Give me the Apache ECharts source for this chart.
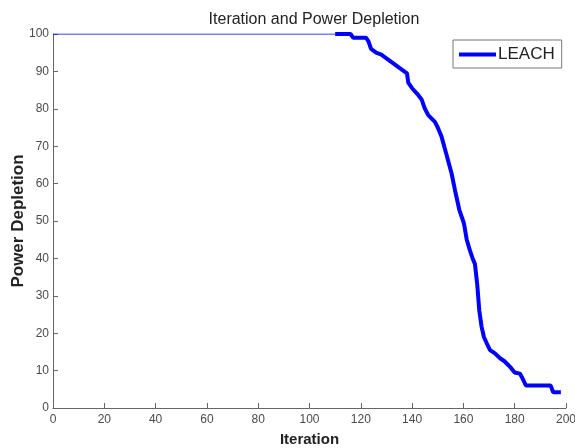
<!DOCTYPE html>
<html>
<head>
<meta charset="utf-8">
<script src="https://cdn.jsdelivr.net/npm/echarts@6/dist/echarts.min.js"></script>
<style>
  html, body { margin: 0; padding: 0; background: #fff; }
  #main { width: 575px; height: 448px; }
</style>
</head>
<body>
<div id="main"></div>
<script>
// 曲线数据
var idleIter = [0, 110];
var idlePower = [100, 100];

var iterations = [110, 116, 117, 122, 123, 124, 126, 128, 130, 132, 134, 136, 138, 138.5, 140, 142,
    143.7, 145, 146.3, 148.9, 150, 151.5, 153.5, 155.4, 156.7, 158.4, 160.2, 161.3, 162.6, 163.6,
    164.5, 165.4, 166.2, 167.1, 168, 169.1, 170.4, 172.3, 174.3, 176, 178.2, 180, 182, 183, 184.4,
    194, 195, 198];
var power = [100, 100, 99, 99, 98, 96, 95, 94.5, 93.5, 92.5, 91.5, 90.5, 89.5, 87, 85.5, 84,
    82.5, 80, 78.3, 76.5, 75, 72.5, 67.5, 62.7, 58.3, 53, 49.4, 45, 42, 40,
    38.5, 33, 26, 21.7, 19, 17.3, 15.5, 14.6, 13.3, 12.5, 11, 9.5, 9.2, 8, 6,
    6, 4.2, 4.2];

function pairs(xs, ys) {
    var out = [];
    for (var i = 0; i < xs.length; i++) {
        out.push([xs[i], ys[i]]);
    }
    return out;
}

var font = "'Liberation Sans Narrow', 'Liberation Sans', Arial, sans-serif";
var myChart = echarts.init(document.getElementById('main'));

var option = {
    animation: false,
    backgroundColor: '#fff',
    title: {
        text: 'Iteration and Power Depletion',
        left: 309,
        textAlign: 'center',
        top: 7,
        textStyle: { fontFamily: 'Liberation Sans, Arial', fontSize: 16, fontWeight: 'normal', color: '#222' }
    },
    legend: {
        data: ['LEACH'],
        left: 453,
        top: 40,
        padding: [6, 7, 5, 6],
        itemWidth: 37,
        itemHeight: 4,
        itemGap: 2,
        icon: 'rect',
        borderColor: '#777',
        borderWidth: 1,
        backgroundColor: '#fff',
        textStyle: { fontFamily: 'Liberation Sans, Arial', fontSize: 17, color: '#222', padding: [0, 0, 0, -3] }
    },
    grid: { left: 53, right: 9, top: 34, bottom: 40, containLabel: false, outerBoundsMode: 'none' },
    xAxis: {
        type: 'value',
        min: 0,
        max: 200,
        interval: 20,
        name: 'Iteration',
        nameLocation: 'middle',
        nameGap: 24,
        nameTextStyle: { fontFamily: 'Liberation Sans, Arial', fontSize: 15, fontWeight: 'bold', color: '#222' },
        axisLine: { lineStyle: { color: '#666', width: 1 } },
        axisTick: { inside: true, length: 5, lineStyle: { color: '#666' } },
        axisLabel: { fontFamily: font, fontSize: 12, color: '#4a4a4a', margin: 6 },
        splitLine: { show: false }
    },
    yAxis: {
        type: 'value',
        min: 0,
        max: 100,
        interval: 10,
        name: 'Power Depletion',
        nameLocation: 'middle',
        nameGap: 26,
        nameMoveOverlap: false,
        nameTextStyle: { fontFamily: 'Liberation Sans, Arial', fontSize: 17, fontWeight: 'bold', color: '#222' },
        axisLine: { show: true, lineStyle: { color: '#666', width: 1 } },
        axisTick: { show: true, inside: true, length: 5, lineStyle: { color: '#666' } },
        axisLabel: { fontFamily: font, fontSize: 12, color: '#4a4a4a', margin: 4 },
        splitLine: { show: false }
    },
    series: [
        {
            name: 'idle',
            type: 'line',
            data: pairs(idleIter, idlePower),
            symbol: 'none',
            lineStyle: { color: '#0000ff', width: 1 },
            itemStyle: { color: '#0000ff' }
        },
        {
            name: 'LEACH',
            type: 'line',
            data: pairs(iterations, power),
            symbol: 'none',
            lineStyle: { color: '#0000ff', width: 4 },
            itemStyle: { color: '#0000ff' }
        }
    ]
};

myChart.setOption(option);
</script>
</body>
</html>
